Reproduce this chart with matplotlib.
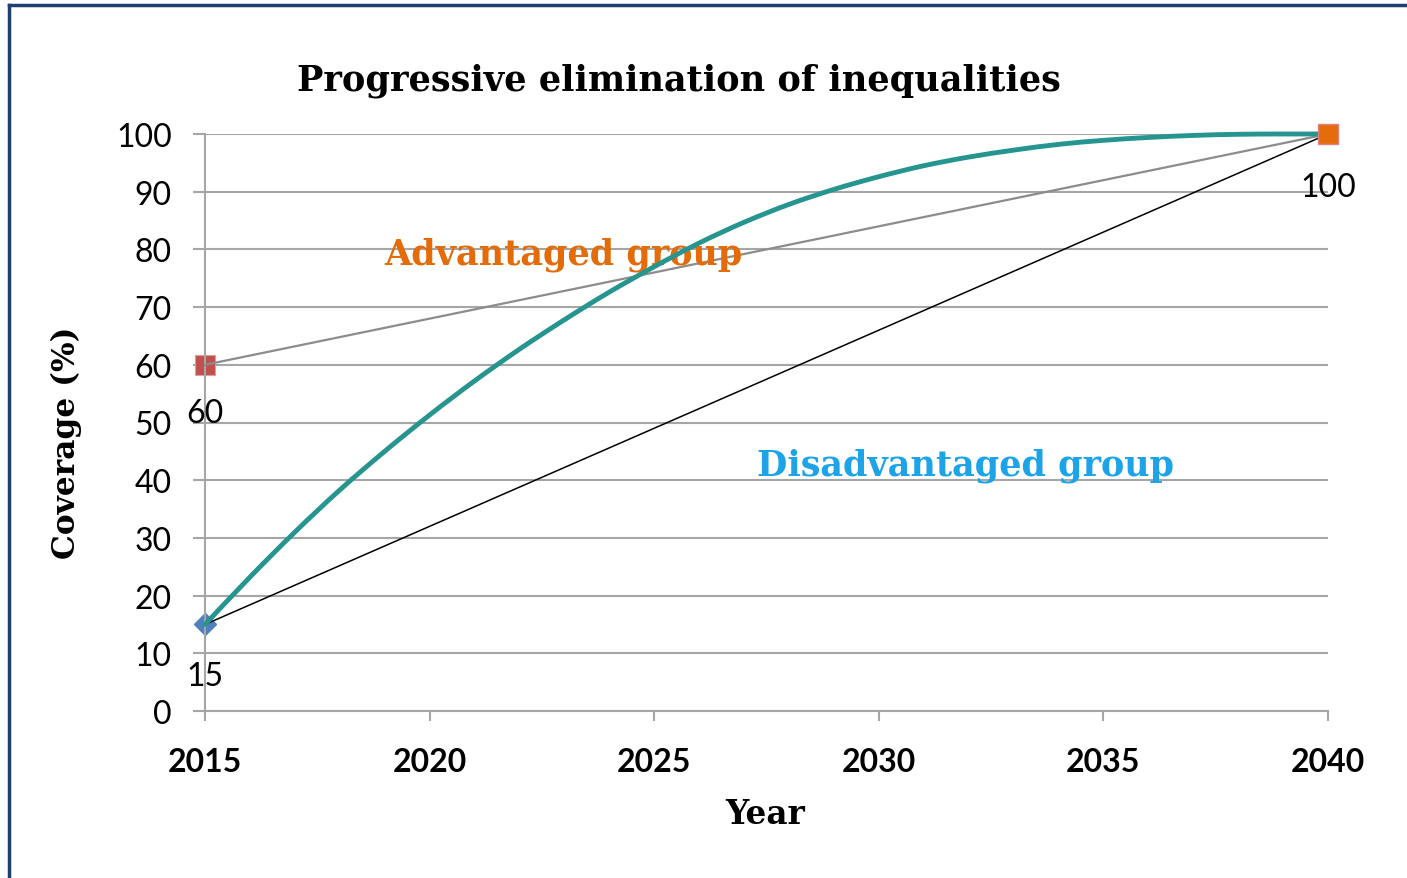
import numpy as np
import matplotlib
matplotlib.use("Agg")
import matplotlib.pyplot as plt
from matplotlib.lines import Line2D
from matplotlib.path import Path
from matplotlib.patches import PathPatch

# data
years_end = [2015, 2040]
advantaged = [60, 100]
disadvantaged = [15, 100]

# progressive elimination path (read roughly every year)
path_years = list(range(2015, 2041))
path_values = [15, 23.2, 31, 38.3, 45, 51.3, 57.2, 62.7, 67.8, 72.6, 77, 81.1, 84.7,
               87.8, 90.4, 92.6, 94.5, 96, 97.2, 98.2, 98.9, 99.4, 99.75, 99.95, 100, 100]

y_ticks = list(range(0, 101, 10))
x_ticks = [2015, 2020, 2025, 2030, 2035, 2040]

sans = "Lato"
serif = "DejaVu Serif"

fig = plt.figure(figsize=(14.07, 8.79), dpi=100)
ax = fig.add_axes([205 / 1407, 167 / 879, 1123 / 1407, 577 / 879])

# frame around the figure (only top and left visible)
fig.add_artist(Line2D([9 / 1407, 1.0], [1 - 6 / 879, 1 - 6 / 879],
                      transform=fig.transFigure, color="#1F3F6E", lw=2.5))
fig.add_artist(Line2D([9 / 1407, 9 / 1407], [0, 1 - 6 / 879],
                      transform=fig.transFigure, color="#1F3F6E", lw=2.5))

ax.set_xlim(2015, 2040)
ax.set_ylim(0, 100)
ax.set_yticks(y_ticks)
ax.set_xticks(x_ticks)
ax.grid(axis="y", color="#A6A6A6", lw=1.5)
ax.set_axisbelow(True)
for s in ["top", "right"]:
    ax.spines[s].set_visible(False)
for s in ["left", "bottom"]:
    ax.spines[s].set_color("#A6A6A6")
    ax.spines[s].set_linewidth(1.5)
ax.tick_params(axis="y", length=9, width=1.5, color="#A6A6A6", pad=15,
               labelsize=23)
ax.tick_params(axis="x", length=7, width=1.5, color="#A6A6A6", pad=19,
               labelsize=23)
for lab in ax.get_yticklabels():
    lab.set_fontfamily(sans)
for lab in ax.get_xticklabels():
    lab.set_fontfamily(sans)
    lab.set_fontweight("bold")

# smooth line through the read points (Catmull-Rom as cubic Bezier pieces)
px = np.array(path_years, dtype=float)
py = np.array(path_values, dtype=float)
verts = [(px[0], py[0])]
codes = [Path.MOVETO]
for i in range(len(px) - 1):
    p0 = np.array([px[max(i - 1, 0)], py[max(i - 1, 0)]])
    p1 = np.array([px[i], py[i]])
    p2 = np.array([px[i + 1], py[i + 1]])
    p3 = np.array([px[min(i + 2, len(px) - 1)], py[min(i + 2, len(px) - 1)]])
    c1 = p1 + (p2 - p0) / 6
    c2 = p2 - (p3 - p1) / 6
    verts += [tuple(c1), tuple(c2), tuple(p2)]
    codes += [Path.CURVE4] * 3
ax.add_patch(PathPatch(Path(verts, codes), fill=False, edgecolor="#26958F",
                       lw=3.5, zorder=4, capstyle="round", clip_on=False))

ax.plot(years_end, advantaged, color="#8C8C8C", lw=1.6, zorder=3, clip_on=False)
ax.plot(years_end, disadvantaged, color="black", lw=1.1, zorder=3, clip_on=False)

# markers
ax.plot(years_end[0], advantaged[0], marker="s", ms=14.5, color="#C0504D",
        mec="#D9A0A0", mew=0.8, zorder=2, clip_on=False)
ax.plot(years_end[1], advantaged[1], marker="s", ms=14, color="#E46C0A",
        mec="#E08080", mew=1, zorder=5, clip_on=False)
ax.plot(years_end[0], disadvantaged[0], marker="D", ms=11, color="#4F81BD",
        zorder=2, clip_on=False)

# data labels
ax.annotate(str(advantaged[0]), (years_end[0], advantaged[0]), xytext=(0, -35),
            textcoords="offset points", ha="center", va="center",
            fontsize=23, family=sans)
ax.annotate(str(disadvantaged[0]), (years_end[0], disadvantaged[0]), xytext=(0, -37),
            textcoords="offset points", ha="center", va="center",
            fontsize=23, family=sans)
ax.annotate(str(advantaged[1]), (years_end[1], advantaged[1]), xytext=(0, -38),
            textcoords="offset points", ha="center", va="center",
            fontsize=23, family=sans)

# group labels
ax.text(2022.98, 79.3, "Advantaged group", color="#E36C09", fontsize=25.2,
        fontweight="bold", family=serif, ha="center", va="center")
ax.text(2031.93, 42.6, "Disadvantaged group", color="#1CA3E8", fontsize=25.2,
        fontweight="bold", family=serif, ha="center", va="center")

fig.text(679 / 1407, 1 - 81 / 879, "Progressive elimination of inequalities",
         fontsize=25.3, fontweight="bold", family=serif, ha="center", va="center")
fig.text(765 / 1407, 1 - 815 / 879, "Year", fontsize=23.5, fontweight="bold",
         family=serif, ha="center", va="center")
fig.text(66 / 1407, 1 - 443 / 879, "Coverage (%)", fontsize=22.5, fontweight="bold",
         family=serif, ha="center", va="center", rotation=90)

fig.savefig("out.png", dpi=100)
